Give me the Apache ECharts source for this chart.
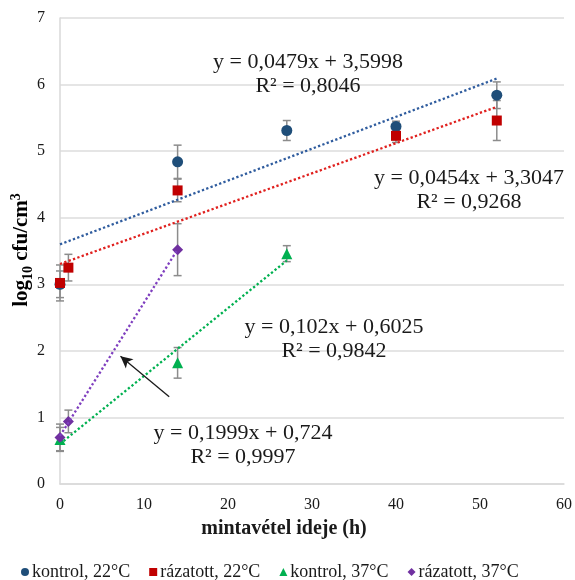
<!DOCTYPE html>
<html><head><meta charset="utf-8">
<script src="https://cdn.jsdelivr.net/npm/echarts@6/dist/echarts.min.js"></script>
<style>html,body{margin:0;padding:0;background:#fff}#c{width:575px;height:580px}</style>
</head><body><div id="c"></div>
<script>
// ---- data ----
const seriesNames = ['kontrol, 22°C', 'rázatott, 22°C', 'kontrol, 37°C', 'rázatott, 37°C'];
const k22X = [0, 14, 27, 40, 52];
const k22Y = [3.00, 4.84, 5.31, 5.37, 5.84];
const k22Err = [0.20, 0.25, 0.15, 0.08, 0.20];
const r22X = [0, 1, 14, 40, 52];
const r22Y = [3.02, 3.25, 4.41, 5.23, 5.46];
const r22Err = [0.27, 0.20, 0.17, 0.10, 0.30];
const k37X = [0, 14, 27];
const k37Y = [0.67, 1.82, 3.46];
const k37Err = [0.18, 0.23, 0.12];
const r37X = [0, 1, 14];
const r37Y = [0.70, 0.94, 3.52];
const r37Err = [0.20, 0.17, 0.39];
// trend lines (from fitted equations)
const trendSlope = [0.0479, 0.0454, 0.102, 0.1999];
const trendIntercept = [3.5998, 3.3047, 0.6025, 0.724];
const trendXRange = [[0, 52], [0, 52], [0, 27], [0, 14]];
const eqTexts = [
  ['y = 0,0479x + 3,5998', 'R² = 0,8046'],
  ['y = 0,0454x + 3,3047', 'R² = 0,9268'],
  ['y = 0,102x + 0,6025', 'R² = 0,9842'],
  ['y = 0,1999x + 0,724', 'R² = 0,9997']
];
const arrowFrom = [13.0, 1.31];
const arrowTo = [7.2, 1.92];
const xTicks = [0, 10, 20, 30, 40, 50, 60];
const yTicks = [0, 1, 2, 3, 4, 5, 6, 7];

// ---- styles ----
const markerColors = ['#1F4E79', '#C00000', '#00B050', '#7030A0'];
const lineColors = ['#2F5C9E', '#E0201E', '#00B050', '#7F3FBF'];
const symbols = ['circle', 'rect', 'triangle', 'diamond'];
const symSizes = [11, 10, 11, 11];
const FONT = '"Liberation Serif", "Times New Roman", serif';

const groups = [[k22X, k22Y, k22Err], [r22X, r22Y, r22Err], [k37X, k37Y, k37Err], [r37X, r37Y, r37Err]];

const chart = echarts.init(document.getElementById('c'), null, {renderer: 'canvas'});
const series = [];

groups.forEach((g, i) => {
  const pts = g[0].map((x, j) => [x, g[1][j], g[2][j]]);
  series.push({
    type: 'custom', name: 'err' + i, silent: true, z: 2,
    data: pts,
    renderItem: function (params, api) {
      const x = api.value(0), y = api.value(1), e = api.value(2);
      const top = api.coord([x, y + e]);
      const bot = api.coord([x, y - e]);
      const hw = 4;
      const st = {stroke: '#8C8C8C', lineWidth: 1.5};
      return {type: 'group', children: [
        {type: 'line', shape: {x1: top[0], y1: top[1], x2: bot[0], y2: bot[1]}, style: st},
        {type: 'line', shape: {x1: top[0] - hw, y1: top[1], x2: top[0] + hw, y2: top[1]}, style: st},
        {type: 'line', shape: {x1: bot[0] - hw, y1: bot[1], x2: bot[0] + hw, y2: bot[1]}, style: st}
      ]};
    }
  });
});

groups.forEach((g, i) => {
  series.push({
    type: 'scatter', name: seriesNames[i], symbol: symbols[i], symbolSize: symSizes[i], z: 3,
    itemStyle: {color: markerColors[i], opacity: 1},
    data: g[0].map((x, j) => [x, g[1][j]])
  });
});

trendSlope.forEach((m, i) => {
  const r = trendXRange[i];
  series.push({
    type: 'line', name: 'trend' + i, showSymbol: false, silent: true, z: 4,
    lineStyle: {color: lineColors[i], width: 2.3, type: [2.3, 2.3]},
    data: [[r[0], trendIntercept[i] + m * r[0]], [r[1], trendIntercept[i] + m * r[1]]],
    markLine: i === 3 ? {
      silent: true, symbol: ['none', 'arrow'], symbolSize: [9, 12],
      label: {show: false},
      lineStyle: {color: '#1a1a1a', width: 1.3, type: 'solid'},
      data: [[{coord: arrowFrom}, {coord: arrowTo}]]
    } : undefined
  });
});

const eqPos = [[308, 62], [469, 178], [334, 327], [243, 433]];
const graphics = [];
eqTexts.forEach((t, i) => {
  graphics.push({type: 'text', x: eqPos[i][0], y: eqPos[i][1], z: 10,
    style: {text: t[0], font: '22px ' + FONT, fill: '#1a1a1a', textAlign: 'center', textVerticalAlign: 'middle'}});
  graphics.push({type: 'text', x: eqPos[i][0], y: eqPos[i][1] + 24, z: 10,
    style: {text: t[1], font: '22px ' + FONT, fill: '#1a1a1a', textAlign: 'center', textVerticalAlign: 'middle'}});
});
graphics.push({type: 'text', x: 284, y: 529,
  style: {text: 'mintavétel ideje (h)', font: 'bold 20px ' + FONT, fill: '#1a1a1a', textAlign: 'center', textVerticalAlign: 'middle'}});
graphics.push({type: 'text', x: 22, y: 250, rotation: Math.PI / 2,
  style: {
    text: '{a|log}{s|10}{a| cfu/cm}{p|3}',
    textAlign: 'center', textVerticalAlign: 'middle',
    rich: {
      a: {fontFamily: FONT, fontWeight: 'bold', fontSize: 21, lineHeight: 26, color: '#1a1a1a'},
      s: {fontFamily: FONT, fontWeight: 'bold', fontSize: 14, lineHeight: 14, verticalAlign: 'bottom', color: '#1a1a1a'},
      p: {fontFamily: FONT, fontWeight: 'bold', fontSize: 14, lineHeight: 14, verticalAlign: 'top', color: '#1a1a1a'}
    }
  }});

chart.setOption({
  animation: false,
  backgroundColor: '#fff',
  grid: {left: 60, right: 8, top: 18, bottom: 96, containLabel: false},
  xAxis: {
    type: 'value', min: xTicks[0], max: xTicks[xTicks.length - 1], interval: 10,
    axisLine: {show: true, lineStyle: {color: '#D9D9D9', width: 1.5}},
    axisTick: {show: false}, splitLine: {show: false},
    axisLabel: {fontFamily: FONT, fontSize: 16, color: '#1a1a1a', margin: 13}
  },
  yAxis: {
    type: 'value', min: yTicks[0], max: yTicks[yTicks.length - 1], interval: 1,
    axisLine: {show: true, lineStyle: {color: '#D9D9D9', width: 1.5}},
    axisTick: {show: false},
    splitLine: {show: true, lineStyle: {color: '#DDDDDD', width: 1.5}},
    axisLabel: {fontFamily: FONT, fontSize: 16, color: '#1a1a1a', margin: 15}
  },
  legend: {
    data: seriesNames.map((n, i) => ({name: n, icon: symbols[i]})),
    left: 16, top: 558, itemWidth: 8, itemHeight: 8, itemGap: 19,
    textStyle: {fontFamily: FONT, fontSize: 18, color: '#1a1a1a', padding: [0, 0, 0, -2]}
  },
  graphic: graphics,
  series: series
});
</script>
</body></html>
